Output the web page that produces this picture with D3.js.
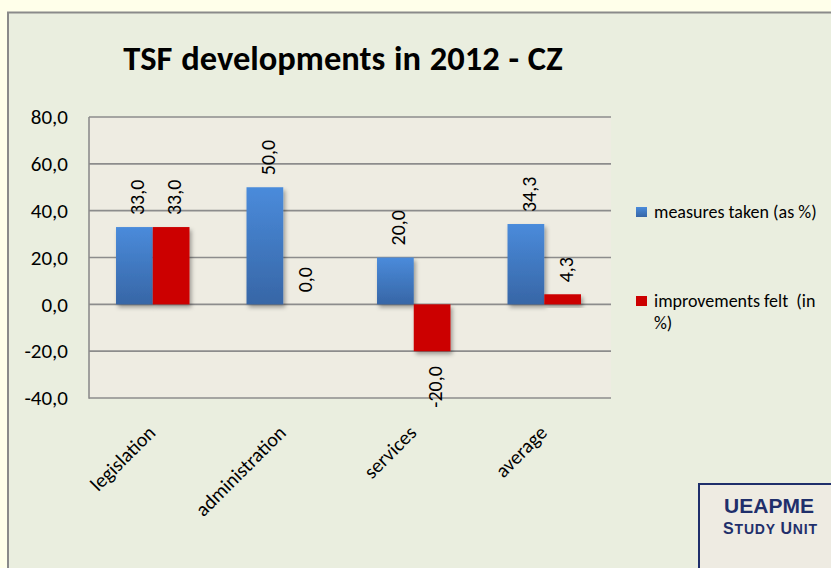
<!DOCTYPE html>
<html><head><meta charset="utf-8">
<script src="https://cdn.jsdelivr.net/npm/d3@7"></script>
<style>
html,body{margin:0;padding:0;background:#FFFFEA;}
svg{display:block;}
text{font-family:Carlito,Lato,"Open Sans",sans-serif;}
.pre{white-space:pre;}
</style></head>
<body>
<script>
const categories = ["legislation","administration","services","average"];
const seriesNames = ["measures taken (as %)","improvements felt  (in %)"];
const measuresTaken = [33.0, 50.0, 20.0, 34.3];
const improvementsFelt = [33.0, 0.0, -20.0, 4.3];
const yTicks = [-40,-20,0,20,40,60,80];
const title = "TSF developments in 2012 - CZ";

const W = 831, H = 568;
const svg = d3.select("body").append("svg").attr("width", W).attr("height", H);
const defs = svg.append("defs");
const gBlue = defs.append("linearGradient").attr("id","gBlue").attr("x1",0).attr("y1",0).attr("x2",0).attr("y2",1);
gBlue.append("stop").attr("offset","0%").attr("stop-color","#4A8BDB");
gBlue.append("stop").attr("offset","100%").attr("stop-color","#3766A6");
const shadow = defs.append("filter").attr("id","shadow").attr("x","-20%").attr("y","-20%").attr("width","150%").attr("height","150%");
shadow.append("feDropShadow").attr("dx",2).attr("dy",3).attr("stdDeviation",2).attr("flood-color","#000").attr("flood-opacity",0.35);

// outer frame
svg.append("rect").attr("x",8).attr("y",12.5).attr("width",W+10).attr("height",H+10)
  .attr("fill","#EAEEDF").attr("stroke","#8A8A8A").attr("stroke-width",2);

const plot = {l:89, r:611, t:117, b:398};
svg.append("rect").attr("x",plot.l).attr("y",plot.t).attr("width",plot.r-plot.l).attr("height",plot.b-plot.t)
  .attr("fill","#EEECE2");

const y = d3.scaleLinear().domain([-40,80]).range([plot.b, plot.t]);
const x0 = d3.scaleBand().domain(categories).range([plot.l - 1.5, plot.r - 1.5]).paddingInner(0.437).paddingOuter(0.2185);
const x1 = d3.scaleBand().domain([0,1]).range([0, x0.bandwidth()]);

// gridlines
svg.append("g").selectAll("line").data(yTicks).join("line")
  .attr("x1",plot.l).attr("x2",plot.r).attr("y1",d=>y(d)).attr("y2",d=>y(d))
  .attr("stroke","#8C8C8C").attr("stroke-width",1.6);
svg.append("line").attr("x1",plot.l).attr("x2",plot.l).attr("y1",plot.t).attr("y2",plot.b+0.8)
  .attr("stroke","#8C8C8C").attr("stroke-width",1.6);

// y axis labels
const fmt = v => d3.format(".1f")(v).replace(".", ",").replace("−","-");
const yAxis = d3.axisLeft(y).tickValues(yTicks).tickSize(0).tickPadding(0).tickFormat(fmt);
const ya = svg.append("g").attr("transform",`translate(68,0)`).call(yAxis);
ya.select(".domain").remove();
ya.selectAll("text").attr("font-size",21).attr("fill","#000").attr("font-family","Carlito,Lato,sans-serif");

// bars
const series = [measuresTaken, improvementsFelt];
const colors = ["url(#gBlue)", "#CC0000"];
series.forEach((vals, si) => {
  const g = svg.append("g");
  g.selectAll("rect").data(vals).join("rect")
    .attr("x",(d,i)=>x0(categories[i]) + x1(si))
    .attr("width",x1.bandwidth())
    .attr("y",d=>y(Math.max(0,d)))
    .attr("height",d=>Math.abs(y(d)-y(0)))
    .attr("fill",colors[si])
    .attr("filter", "url(#shadow)");
  g.selectAll("text").data(vals).join("text")
    .attr("transform",(d,i)=>{
      const cx = x0(categories[i]) + x1(si) + x1.bandwidth()/2 + 3;
      const yy = d < 0 ? y(d) + 15 : y(d) - 12;
      return `translate(${cx},${yy}) rotate(-90)`;
    })
    .attr("text-anchor",d=> d < 0 ? "end" : "start")
    .attr("dy","0.35em")
    .attr("font-size",20).attr("fill","#000")
    .text(d=>fmt(d));
});

// x labels
svg.append("g").selectAll("text").data(categories).join("text")
  .attr("transform",d=>`translate(${x0(d)+x0.bandwidth()/2-1},${429}) rotate(-45)`)
  .attr("text-anchor","end").attr("dy","0.35em")
  .attr("font-size",20).attr("fill","#000").text(d=>d);

// title
svg.append("text").attr("x",343).attr("y",69.5).attr("text-anchor","middle")
  .attr("font-size",34.5).attr("font-weight","bold").attr("word-spacing",1).attr("fill","#000").text(title);

// legend
const leg = svg.append("g");
const legColors = ["url(#gBlue)", "#CC0000"];
const legBase = [218, 307];
leg.selectAll("rect").data(seriesNames).join("rect")
  .attr("x",636).attr("y",(d,i)=>legBase[i]-11).attr("width",11).attr("height",10).attr("fill",(d,i)=>legColors[i]);
leg.append("text").attr("class","pre").attr("x",654).attr("y",legBase[0]).attr("font-size",18).text(seriesNames[0]);
const t2 = leg.append("text").attr("class","pre").attr("x",654).attr("y",legBase[1]).attr("font-size",18);
t2.append("tspan").attr("x",654).text("improvements felt  (in");
t2.append("tspan").attr("x",654).attr("dy",22).text("%)");

// UEAPME box
svg.append("rect").attr("x",699).attr("y",484).attr("width",150).attr("height",100)
  .attr("fill","#EEEBE2").attr("stroke","#1F2F6B").attr("stroke-width",2);
svg.append("text").attr("x",769).attr("y",513).attr("text-anchor","middle")
  .style("font-family","'Liberation Sans',Arial,sans-serif").attr("font-weight","bold")
  .attr("font-size",21).attr("fill","#1F2F6B").text("UEAPME");
const su = svg.append("text").attr("x",723).attr("y",534)
  .style("font-family","'Liberation Sans',Arial,sans-serif").attr("font-weight","bold")
  .attr("fill","#1F2F6B").attr("textLength",94).attr("lengthAdjust","spacing");
su.append("tspan").attr("font-size",16).text("S");
su.append("tspan").attr("font-size",14).text("TUDY ");
su.append("tspan").attr("font-size",16).text("U");
su.append("tspan").attr("font-size",14).text("NIT");
</script>
</body></html>
